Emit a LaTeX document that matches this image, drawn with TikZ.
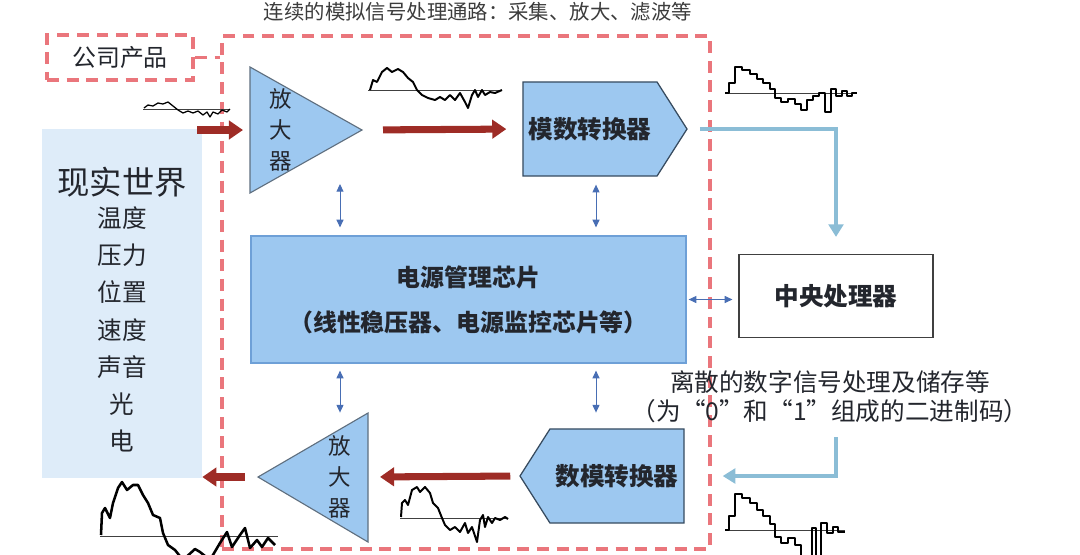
\documentclass[tikz,border=0pt]{standalone}
\usepackage{fontspec}
\setmainfont{Noto Sans CJK SC}
\usetikzlibrary{arrows.meta,shapes.symbols}
\definecolor{chipblue}{RGB}{157,200,240}
\definecolor{chipedge}{RGB}{55,75,95}
\definecolor{poweredge}{RGB}{110,160,215}
\definecolor{worldblue}{RGB}{222,236,249}
\definecolor{dashred}{RGB}{234,118,124}
\definecolor{flowred}{RGB}{158,44,38}
\definecolor{digiblue}{RGB}{139,189,214}
\definecolor{linkblue}{RGB}{72,110,180}
\definecolor{labelgray}{RGB}{60,60,60}
\definecolor{inkdark}{RGB}{35,38,45}

\begin{document}
\begin{tikzpicture}[x=0.025cm, y=-0.025cm,
    groupbox/.style={draw=dashred, line width=2.6pt, dash pattern=on 8.5pt off 5.5pt},
    convbox/.style={draw=chipedge, line width=0.9pt, fill=chipblue, signal, signal pointer angle=115,
        minimum width=4.1cm, minimum height=2.35cm, text=inkdark, font=\fontsize{17.5}{20}\selectfont\bfseries},
    ampshape/.style={draw=chipedge!80, line width=0.8pt, fill=chipblue},
    amplabel/.style={align=center, text=inkdark, font=\fontsize{16}{22}\selectfont},
    flowarrow/.style={draw=flowred, line width=5pt, -{Triangle[length=10pt, width=13pt]}},
    digiarrow/.style={draw=digiblue, line width=2.8pt, -{Triangle[length=9pt, width=10.5pt]}},
    linkarrow/.style={draw=linkblue, line width=0.7pt, {Triangle[length=5.5pt, width=5pt]}-{Triangle[length=5.5pt, width=5pt]}},
    wave/.style={line width=1.4pt, line join=round},
    baseline/.style={line width=0.6pt, black!75}]

    \useasboundingbox (0,0) rectangle (1080,554);
    \clip (0,0) rectangle (1080,554);

    % Title
    \node[text=labelgray, font=\fontsize{14.5}{17}\selectfont] (title) at (478,12) {连续的模拟信号处理通路：采集、放大、滤波等};

    % Company product frame
    \node[groupbox, minimum width=12.2cm, minimum height=12.825cm] (group) at (466,292.5) {};
    \node[groupbox, minimum width=3.65cm, minimum height=1.125cm, text=inkdark,
        font=\fontsize{17}{20}\selectfont] (company) at (120,57.5) {公司产品};
    \draw[groupbox] (company.east) -- (company.east -| group.west);

    % Real world
    \node[fill=worldblue, minimum width=4cm, minimum height=8.725cm] (world) at (122,303.5) {};
    \node[text=inkdark, font=\fontsize{23}{26}\selectfont] (worldtitle) at (122,182) {现实世界};
    \foreach \t [count=\i] in {温度,压力,位置,速度,声音,光,电}
        \node[text=inkdark, font=\fontsize{17.5}{20}\selectfont] (world\i) at (122,{218+37.2*(\i-1)}) {\t};

    % Input amplifier
    \draw[ampshape] (250,67) -- (362,130) -- (250,193) -- cycle;
    \coordinate (amp1in) at (250,130);
    \coordinate (amp1out) at (362,130);
    \coordinate (amp1foot) at (340,176);
    \node[amplabel] (amp1txt) at (281,130) {放\\大\\器};

    % ADC
    \node[convbox, signal to=east] (adc) at (590,129) {模数转换器};

    % Power management chip
    \node[draw=poweredge, line width=0.8pt, fill=chipblue, minimum width=10.875cm, minimum height=3.175cm,
        align=center, text=inkdark, font=\fontsize{17}{32}\selectfont\bfseries] (power) at (468.5,299.5)
        {电源管理芯片\\（线性稳压器、电源监控芯片等）};

    % CPU
    \node[draw=black!75, line width=0.8pt, fill=white, minimum width=4.85cm, minimum height=2.075cm,
        text=inkdark, font=\fontsize{17.5}{20}\selectfont\bfseries] (cpu) at (836,296) {中央处理器};
    \node[align=center, text=inkdark, font=\fontsize{17.5}{20.6}\selectfont] (dignote) at (830,397)
        {离散的数字信号处理及储存等\\（为“0”和“1”组成的二进制码）};

    % DAC
    \node[convbox, signal to=west] (dac) at (617,476) {数模转换器};

    % Output amplifier
    \draw[ampshape] (368,413) -- (258,477) -- (368,542) -- cycle;
    \coordinate (amp2in) at (368,477);
    \coordinate (amp2out) at (258,477);
    \node[amplabel] (amp2txt) at (340,477) {放\\大\\器};

    % Signal flow
    \coordinate (worldout) at (197,130);
    \draw[flowarrow, shorten >=0.175cm] (worldout) -- (amp1in);
    \draw[flowarrow, shorten <=0.525cm, shorten >=0.4cm] (amp1out) -- (adc.west);
    \draw[digiarrow, shorten <=0.3cm, shorten >=0.425cm] (adc.east) -| (cpu.north);
    \draw[digiarrow, shorten >=0.95cm] ([yshift=-2.475cm]cpu.south) |- (dac.east);
    \draw[flowarrow, shorten <=0.225cm, shorten >=0.3cm] (dac.west) -- (amp2in);
    \draw[flowarrow, shorten <=0.325cm] (amp2out) -- (amp2out -| world.east);

    % Power links
    \draw[linkarrow] ([yshift=-0.2cm]amp1foot) -- ([yshift=0.2cm]amp1foot |- power.north);
    \draw[linkarrow] ([xshift=0.15cm,yshift=-0.2cm]adc.south) -- ([xshift=0.15cm,yshift=0.2cm]adc.south |- power.north);
    \draw[linkarrow] ([yshift=-0.175cm]power.south -| amp1foot) -- ([yshift=-1.225cm]power.south -| amp1foot);
    \draw[linkarrow] ([xshift=0.15cm,yshift=-0.175cm]power.south -| adc.south) -- ([xshift=0.15cm,yshift=-1.225cm]power.south -| adc.south);
    \draw[linkarrow, shorten <=0.05cm, shorten >=0.15cm] (power.east) -- (power.east -| cpu.west);

    % Waveforms
    \draw[baseline] (143,109) -- (230,109);
    \draw[wave, line width=0.9pt] plot coordinates {(144,108) (148,105) (153,106) (158,103) (163,104) (168,102)
        (173,106) (178,110) (183,113) (188,111) (193,113) (198,111) (203,115) (207,112) (210,117) (213,112)
        (218,114) (222,110) (227,112) (230,109)};

    \draw[baseline] (368,90) -- (502,90);
    \draw[wave] plot coordinates {(370,90) (373,80) (377,82) (382,72) (387,68) (392,72) (398,69) (403,72)
        (408,78) (413,82) (417,90) (422,95) (428,98) (435,100) (440,97) (445,100) (450,95) (455,100)
        (460,93) (465,102) (468,108) (472,95) (475,90) (478,97) (482,90) (485,95) (490,92) (495,93) (502,90)};

    \draw[baseline] (725,93) -- (857,93);
    \draw[wave, line width=1.2pt] plot coordinates {(725,93) (729,93) (729,83) (735,83) (735,67) (742,67)
        (742,70) (750,70) (750,74) (757,74) (757,79) (763,79) (763,83) (770,83) (770,89) (775,89) (775,98)
        (781,98) (781,102) (788,102) (788,99) (795,99) (795,104) (801,104) (801,110) (807,110) (807,100)
        (813,100) (813,96) (819,96) (819,93) (825,93) (825,112) (831,112) (831,89) (836,89) (836,96)
        (842,96) (842,91) (847,91) (847,96) (852,96) (852,93) (857,93)};

    \draw[baseline] (725,530) -- (845,530);
    \draw[wave, line width=1.2pt] plot coordinates {(725,530) (729,530) (729,516) (735,516) (735,494)
        (742,494) (742,498) (750,498) (750,503) (757,503) (757,510) (763,510) (763,516) (770,516)
        (770,524) (775,524) (775,537) (781,537) (781,543) (788,543) (788,538) (795,538) (795,545)
        (801,545) (801,558) (812,558) (812,528) (816,528) (816,558) (821,558) (821,523) (827,523)
        (827,533) (833,533) (833,527) (838,527) (838,532) (845,532)};

    \draw[baseline] (400,518) -- (508,518);
    \draw[wave] plot coordinates {(401,517) (402,503) (405,500) (408,505) (412,490) (417,487) (420,492)
        (425,487) (430,493) (433,503) (438,508) (442,518) (445,525) (450,530) (455,527) (460,532)
        (465,523) (468,533) (472,527) (477,542) (480,520) (483,515) (485,527) (488,517) (492,523)
        (495,518) (500,520) (505,517) (508,519)};

    \draw[baseline] (100,536) -- (278,536);
    \draw[wave, line width=1.8pt] plot coordinates {(101,535) (102,513) (105,508) (110,518) (113,503)
        (118,488) (122,482) (127,490) (133,485) (138,485) (143,495) (148,503) (153,515) (160,518)
        (163,533) (168,545) (175,550) (183,560) (195,549) (200,552) (210,560) (220,543) (227,532)
        (232,547) (240,535) (245,528) (250,548) (257,540) (262,547) (268,538) (275,545)};
\end{tikzpicture}
\end{document}
